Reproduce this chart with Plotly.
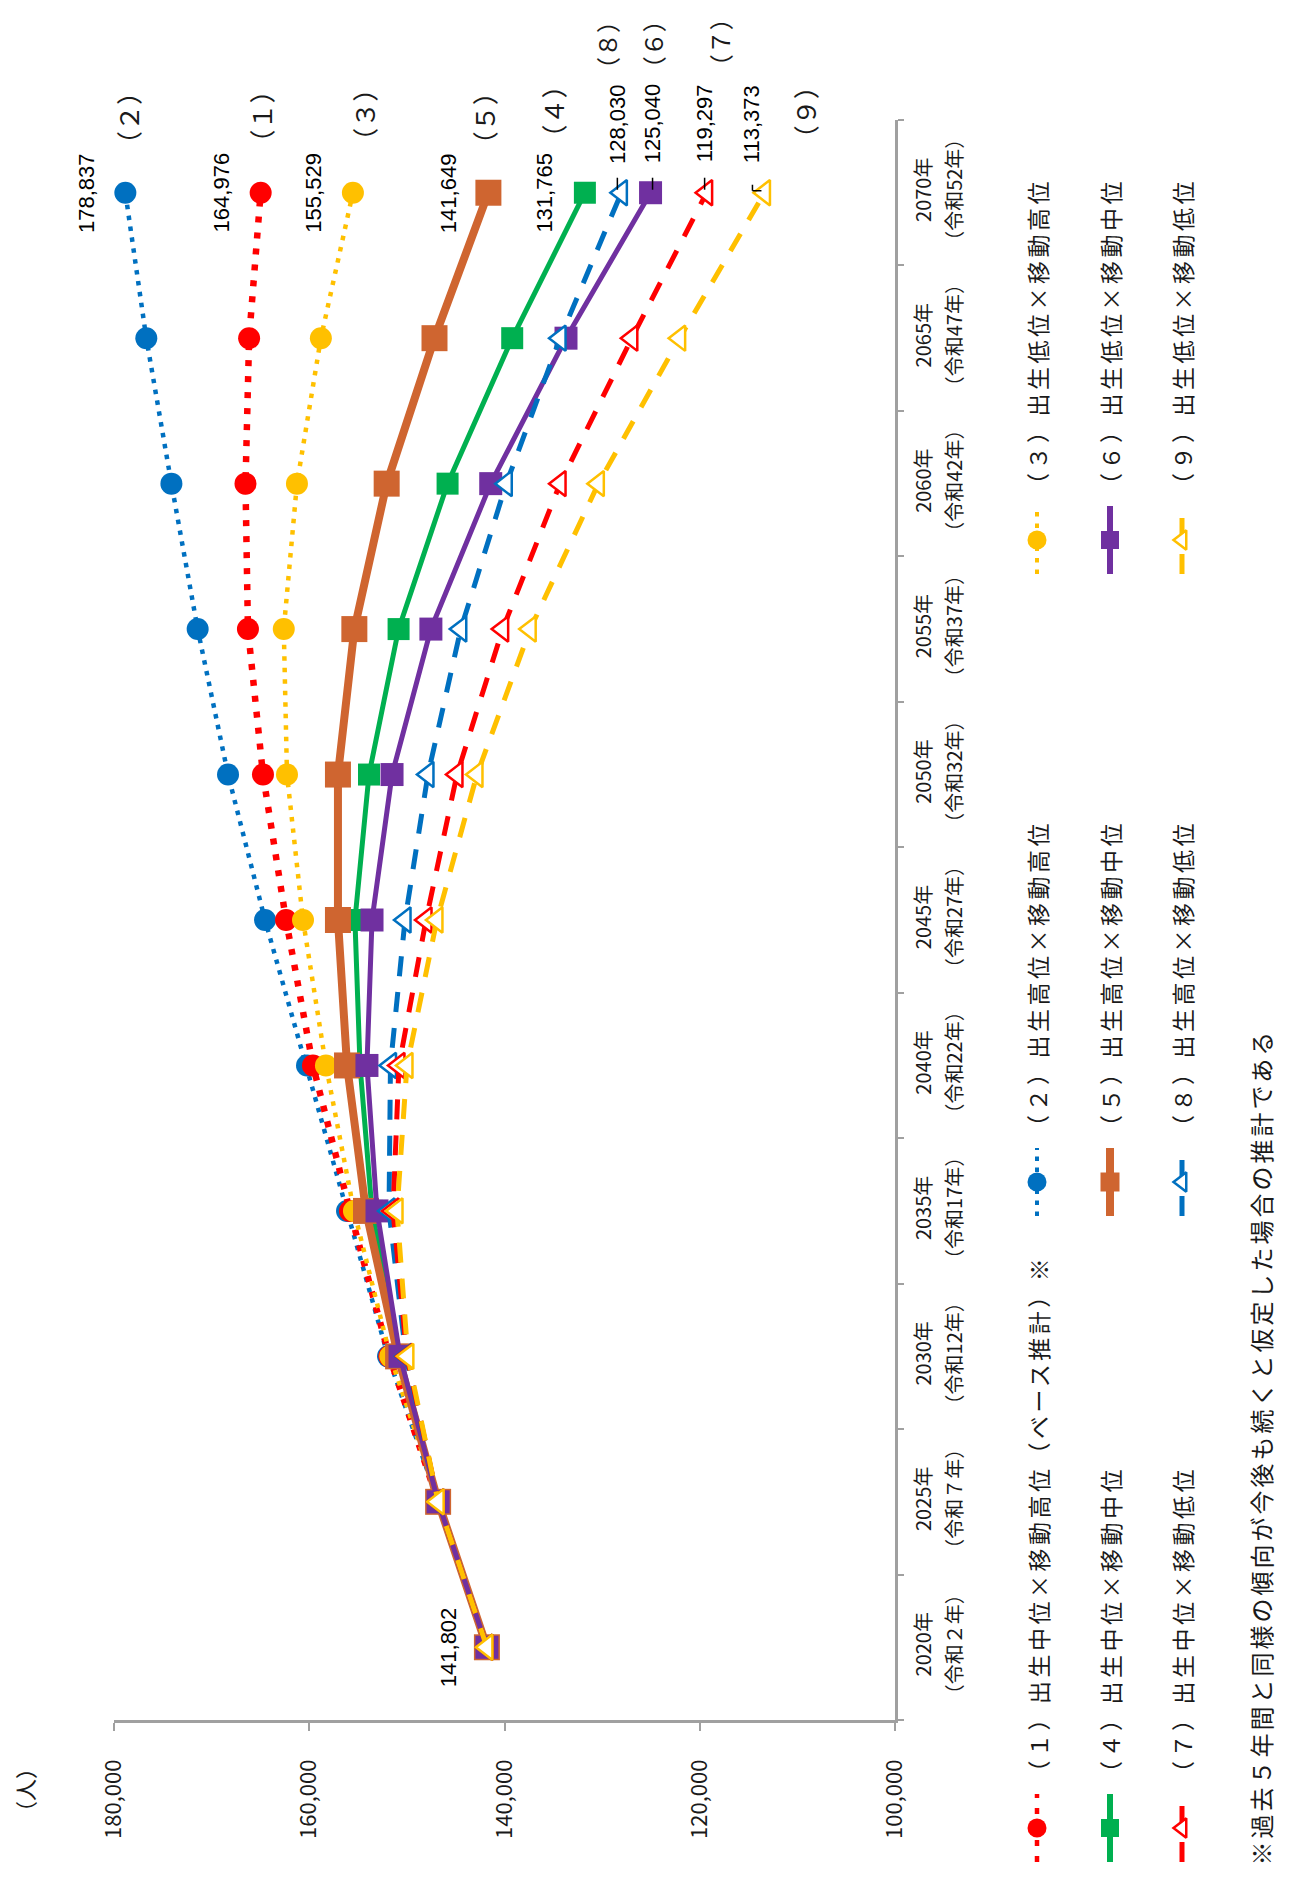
import plotly.graph_objects as go

# Canvas and plot-area geometry (pixels)
W, H = 1290, 1877
PL, PR, PT, PB = 114, 895, 120, 1720

JP = "Noto Sans CJK JP"
NUM = "Liberation Sans"
AXIS_GRAY = "#A0A0A0"
TEXT = "#1a1a1a"

# ---- data -------------------------------------------------------------
years = [2020, 2025, 2030, 2035, 2040, 2045, 2050, 2055, 2060, 2065, 2070]
year_labels = ["2020年", "2025年", "2030年", "2035年", "2040年", "2045年",
               "2050年", "2055年", "2060年", "2065年", "2070年"]
reiwa_labels = ["（令和２年）", "（令和７年）", "（令和12年）", "（令和17年）",
                "（令和22年）", "（令和27年）", "（令和32年）", "（令和37年）",
                "（令和42年）", "（令和47年）", "（令和52年）"]
value_ticks = [100000, 120000, 140000, 160000, 180000]

# projected population per scenario
s1 = [141802, 146800, 151800, 155830, 159620, 162380, 164740, 166280, 166530, 166160, 164976]
s2 = [141802, 146800, 151930, 156130, 160230, 164530, 168320, 171430, 174120, 176690, 178837]
s3 = [141802, 146800, 151700, 155420, 158290, 160640, 162280, 162610, 161260, 158810, 155529]
s4 = [141802, 146800, 150800, 153570, 154800, 155320, 153880, 150850, 145830, 139210, 131765]
s5 = [141802, 146800, 150900, 154190, 156130, 157060, 157060, 155380, 152070, 147170, 141649]
s6 = [141802, 146800, 150700, 153060, 154090, 153570, 151520, 147540, 141410, 133700, 125040]
s7 = [141802, 146800, 150000, 151420, 150810, 148040, 144870, 140190, 134310, 126960, 119297]
s8 = [141802, 146800, 150100, 151830, 151680, 150190, 147840, 144480, 139820, 134310, 128030]
s9 = [141802, 146800, 149900, 151010, 149990, 146920, 142820, 137370, 130390, 122060, 113373]

series_ids = ["（１）", "（２）", "（３）", "（４）", "（５）", "（６）", "（７）", "（８）", "（９）"]
series_names = ["出生中位×移動高位（ベース推計）※", "出生高位×移動高位", "出生低位×移動高位",
                "出生中位×移動中位", "出生高位×移動中位", "出生低位×移動中位",
                "出生中位×移動低位", "出生高位×移動低位", "出生低位×移動低位"]
series_values = [s1, s2, s3, s4, s5, s6, s7, s8, s9]
footnote = "※過去５年間と同様の傾向が今後も続くと仮定した場合の推計である"
unit_label = "（人）"

# ---- styles -------------------------------------------------------------
BLUE, RED, YEL = "#0070C0", "#FF0000", "#FFC000"
GRN, BRN, PUR = "#00B050", "#CF6530", "#7030A0"
styles = [
    dict(color=RED, width=6.5, dash="6px,10px", symbol="circle", size=22, open=False),
    dict(color=BLUE, width=4.5, dash="4.5px,6.5px", symbol="circle", size=22, open=False),
    dict(color=YEL, width=4.5, dash="4.5px,7px", symbol="circle", size=22, open=False),
    dict(color=GRN, width=5, dash="solid", symbol="square", size=22, open=False),
    dict(color=BRN, width=8, dash="solid", symbol="square", size=26, open=False),
    dict(color=PUR, width=5, dash="solid", symbol="square", size=23, open=False),
    dict(color=RED, width=5, dash="20px,16px", symbol="triangle-left", size=22, open=True),
    dict(color=BLUE, width=5, dash="20px,16px", symbol="triangle-left", size=22, open=True),
    dict(color=YEL, width=5, dash="20px,16px", symbol="triangle-left", size=22, open=True),
]
draw_order = [1, 0, 2, 3, 4, 5, 7, 6, 8]


def spaced(text, px):
    return f'<span style="letter-spacing:{px}px">{text}</span>'


fig = go.Figure()


def marker_style(st, size=None):
    size = st["size"] if size is None else size
    if st["open"]:
        return dict(symbol=st["symbol"], size=size, color="white",
                    line=dict(color=st["color"], width=2.5))
    return dict(symbol=st["symbol"], size=size, color=st["color"], line=dict(width=0))


for i in draw_order:
    st = styles[i]
    fig.add_trace(go.Scatter(
        x=series_values[i], y=years, mode="lines+markers",
        line=dict(color=st["color"], width=st["width"], dash=st["dash"]),
        marker=marker_style(st), name=series_ids[i] + series_names[i],
        showlegend=False, hoverinfo="skip", xaxis="x", yaxis="y"))

# companion axis carrying the Reiwa era labels
fig.add_trace(go.Scatter(x=[None], y=[None], xaxis="x", yaxis="y2",
                         showlegend=False, hoverinfo="skip"))

# ---- hand-drawn legend keys on a full-canvas pixel axis ----------------
col_x = [1037, 1110, 1182]
row_mid = [1828, 1182, 540]
KEY_HALF = 34
key_widths = [4.5, 4.0, 4.0, 6, 8, 6, 5, 5, 5]
key_sizes = [19, 19, 19, 18, 19, 18, 17, 17, 17]
annotations = []
for i, st in enumerate(styles):
    col, row = i // 3, i % 3
    cx, cy = col_x[col], row_mid[row]
    fig.add_trace(go.Scatter(
        x=[cx, cx], y=[cy + KEY_HALF, cy - KEY_HALF], mode="lines",
        line=dict(color=st["color"], width=key_widths[i], dash=st["dash"]),
        showlegend=False, hoverinfo="skip", xaxis="x3", yaxis="y3"))
    fig.add_trace(go.Scatter(
        x=[cx], y=[cy], mode="markers", marker=marker_style(st, key_sizes[i]),
        showlegend=False, hoverinfo="skip", xaxis="x3", yaxis="y3"))
    annotations.append(dict(
        x=cx, y=cy - KEY_HALF - 8, xref="x3", yref="y3",
        text=spaced(series_ids[i] + series_names[i], 3.5), textangle=-90, showarrow=False,
        xanchor="center", yanchor="bottom", font=dict(family=JP, size=23, color=TEXT)))

annotations.append(dict(x=1260, y=1868, xref="x3", yref="y3", text=spaced(footnote, 3),
                        textangle=-90, showarrow=False, xanchor="center", yanchor="bottom",
                        font=dict(family=JP, size=24, color=TEXT)))
annotations.append(dict(x=24, y=1790, xref="x3", yref="y3", text=unit_label,
                        textangle=-90, showarrow=False, xanchor="center", yanchor="middle",
                        font=dict(family=JP, size=22, color=TEXT)))

# ---- value and series labels at the ends of the lines ------------------
# pixel offsets (dx, dy) from the 2070 point; dy positive = upward
value_off = [(-39, 0), (-39, 0), (-39, 0), (-40, 0), (-40, 0),
             (2, 69), (-2, 69), (-4, 69), (-13, 69)]
id_off = [(0, 76), (2, 75), (11, 78), (-32, 81), (-5, 75),
          (2, 148), (13, 150), (-15, 148), (40, 81)]
id_size = [26, 26, 26, 26, 26, 24, 24, 24, 26]
for i in range(9):
    v = series_values[i][-1]
    annotations.append(dict(
        x=v, y=years[-1], xref="x", yref="y", text=f"{v:,}", textangle=-90,
        showarrow=False, xshift=value_off[i][0], yshift=value_off[i][1],
        font=dict(family=NUM, size=22, color="black")))
    annotations.append(dict(
        x=v, y=years[-1], xref="x", yref="y", text=series_ids[i], textangle=-90,
        showarrow=False, xshift=id_off[i][0], yshift=id_off[i][1],
        font=dict(family=JP, size=id_size[i], color=TEXT)))

start = series_values[0][0]
annotations.append(dict(x=start, y=years[0], xref="x", yref="y", text=f"{start:,}",
                        textangle=-90, showarrow=False, xshift=-39,
                        font=dict(family=NUM, size=22, color="black")))

# short leader strokes beside the labels placed above their points
shapes = []
for i in (5, 6, 7):
    v = series_values[i][-1]
    dx = value_off[i][0]
    shapes.append(dict(type="line", xref="x", yref="y", xsizemode="pixel", ysizemode="pixel",
                       xanchor=v, yanchor=years[-1], x0=dx, x1=dx, y0=3, y1=15,
                       line=dict(color="black", width=1.5)))
v9 = series_values[8][-1]
shapes.append(dict(type="line", xref="x", yref="y", xsizemode="pixel", ysizemode="pixel",
                   xanchor=v9, yanchor=years[-1], x0=-12, x1=-12, y0=2, y1=8,
                   line=dict(color="black", width=1.5)))
shapes.append(dict(type="line", xref="x", yref="y", xsizemode="pixel", ysizemode="pixel",
                   xanchor=v9, yanchor=years[-1], x0=-12, x1=-3, y0=2, y1=2,
                   line=dict(color="black", width=1.5)))

# ---- layout -------------------------------------------------------------
y_lo, y_hi = years[0] - 2.5, years[-1] + 2.5
fig.update_layout(
    width=W, height=H, margin=dict(l=0, r=0, t=0, b=0),
    paper_bgcolor="white", plot_bgcolor="rgba(0,0,0,0)",
    showlegend=False, annotations=annotations, shapes=shapes,
    xaxis=dict(domain=[PL / W, PR / W], anchor="y", range=[value_ticks[-1], value_ticks[0]],
               tickvals=value_ticks, tickformat=",", tickangle=-90,
               ticks="outside", ticklen=8, tickwidth=2, tickcolor=AXIS_GRAY,
               showline=True, linecolor=AXIS_GRAY, linewidth=2.5,
               showgrid=False, zeroline=False, automargin=False,
               ticklabelstandoff=20, tickfont=dict(family=JP, size=22, color=TEXT)),
    yaxis=dict(domain=[1 - PB / H, 1 - PT / H], anchor="x", side="right",
               range=[y_lo, y_hi], tickvals=years, ticktext=year_labels,
               tickangle=-90, ticks="", showline=True, linecolor=AXIS_GRAY, linewidth=2.5,
               minor=dict(tick0=y_lo, dtick=5, ticks="outside", ticklen=6,
                          tickwidth=2, tickcolor=AXIS_GRAY, showgrid=False),
               showgrid=False, zeroline=False, automargin=False,
               ticklabelstandoff=9, tickfont=dict(family=JP, size=20, color=TEXT)),
    yaxis2=dict(overlaying="y", anchor="x", side="right", range=[y_lo, y_hi],
                tickvals=years, ticktext=reiwa_labels, tickangle=-90, ticks="",
                showline=False, showgrid=False, zeroline=False, automargin=False,
                ticklabelstandoff=46, tickfont=dict(family=JP, size=20, color=TEXT)),
    xaxis3=dict(domain=[0, 1], range=[0, W], visible=False, anchor="y3", fixedrange=True),
    yaxis3=dict(domain=[0, 1], range=[H, 0], visible=False, anchor="x3", fixedrange=True),
)

fig.write_html("out.html")
